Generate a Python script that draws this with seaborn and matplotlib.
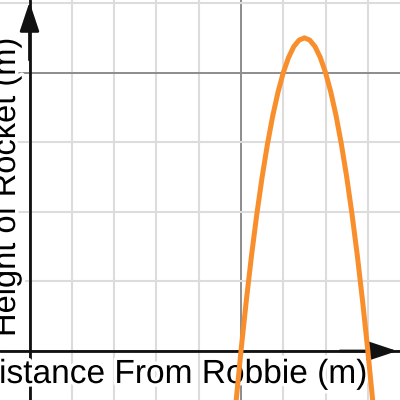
import numpy as np
import pandas as pd
import matplotlib
matplotlib.use('Agg')
import matplotlib.pyplot as plt
import matplotlib.patheffects as pe
from matplotlib.ticker import MultipleLocator
import seaborn as sns

# rocket path (distance in m, height in m)
distance = [9.75, 10.0, 10.25, 10.5, 10.75, 11.0, 11.25, 11.5, 11.75, 12.0, 12.25, 12.5, 12.75,
            13.0, 13.25, 13.5, 13.75, 14.0, 14.25, 14.5, 14.75, 15.0, 15.25, 15.5, 15.75, 16.0, 16.25]
height = [-3.91, 0.0, 3.59, 6.88, 9.84, 12.5, 14.84, 16.88, 18.59, 20.0, 21.09, 21.88, 22.34,
          22.5, 22.34, 21.88, 21.09, 20.0, 18.59, 16.88, 14.84, 12.5, 9.84, 6.88, 3.59, 0.0, -3.91]

x_label = 'Distance From Robbie (m)'
y_label = 'Height of Rocket (m)'

df = pd.DataFrame({'distance': distance, 'height': height})

sns.set_style('white')
plt.rcParams['font.family'] = ['Liberation Sans', 'DejaVu Sans']

fig = plt.figure(figsize=(4, 4), dpi=100)
ax = fig.add_axes([0, 0, 1, 1])
ax.set_xlim(-1.395, 17.52)
ax.set_ylim(-3.52, 25.22)

# grid like a graphing calculator
ax.xaxis.set_major_locator(MultipleLocator(10))
ax.xaxis.set_minor_locator(MultipleLocator(2))
ax.yaxis.set_major_locator(MultipleLocator(20))
ax.yaxis.set_minor_locator(MultipleLocator(5))
ax.grid(which='minor', color='#dcdcdc', lw=1.5, zorder=0)
ax.grid(which='major', color='#8c8c8c', lw=1.4, zorder=0)
ax.set_axisbelow(True)
ax.tick_params(which='both', length=0, labelbottom=False, labelleft=False)
for s in ax.spines.values():
    s.set_visible(False)

# axes with arrow heads
ax.axhline(0, color='#111111', lw=2.0, zorder=2)
ax.axvline(0, color='#111111', lw=2.0, zorder=2)
arrow = dict(arrowstyle='-|>,head_length=0.9,head_width=0.3', mutation_scale=20,
             color='#111111', lw=2.0, shrinkA=0, shrinkB=0)
ax.annotate('', xy=(0, 0.995), xycoords=('data', 'axes fraction'),
            xytext=(0, 0.85), textcoords=('data', 'axes fraction'), arrowprops=arrow, zorder=2)
ax.annotate('', xy=(0.993, 0), xycoords=('axes fraction', 'data'),
            xytext=(0.85, 0), textcoords=('axes fraction', 'data'), arrowprops=arrow, zorder=2)

halo = [pe.withStroke(linewidth=5, foreground='white')]
ax.text(368 / 400, 1 - 383 / 400, x_label, transform=ax.transAxes, ha='right', va='baseline',
        fontsize=24.1, color='black', path_effects=halo, zorder=3)
ax.text(15 / 400, 1 - 337 / 400, y_label, transform=ax.transAxes, ha='left', va='baseline',
        rotation=90, rotation_mode='anchor', fontsize=23.5, color='black',
        path_effects=halo, zorder=3)

sns.lineplot(data=df, x='distance', y='height', sort=False, color='#f98e2c', lw=3.6,
             solid_capstyle='round', solid_joinstyle='round', ax=ax, zorder=5)
ax.set_xlabel('')
ax.set_ylabel('')

fig.savefig('out.png', dpi=100)
